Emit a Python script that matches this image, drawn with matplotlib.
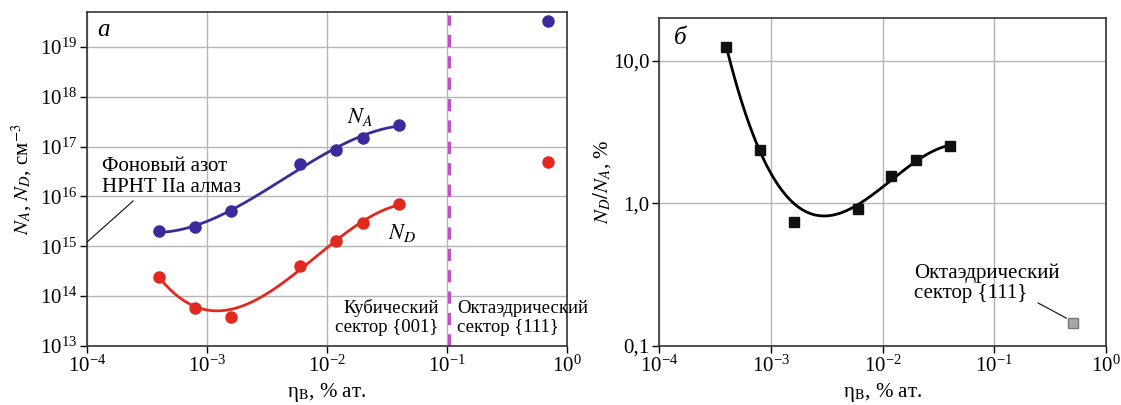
import numpy as np
import matplotlib
matplotlib.use('Agg')
import matplotlib.pyplot as plt
from matplotlib.ticker import LogFormatterMathtext, FixedLocator, NullLocator

plt.rcParams['font.family'] = ['Liberation Serif', 'DejaVu Serif']
plt.rcParams['mathtext.fontset'] = 'stix'

# boron concentration, % at.
eta = [4e-4, 8e-4, 1.6e-3, 6e-3, 1.2e-2, 2.0e-2, 4e-2]
# acceptor / donor concentration, cm^-3 (cubic sector)
NA = [2.0e15, 2.4e15, 5.2e15, 4.4e16, 8.7e16, 1.5e17, 2.75e17]
ND = [2.4e14, 5.8e13, 3.8e13, 4.0e14, 1.26e15, 2.9e15, 6.9e15]
# octahedral sector
eta_oct = 0.7
NA_oct = 3.3e19
ND_oct = 5.0e16
# ratio ND/NA, %
ratio = [12.5, 2.37, 0.735, 0.91, 1.55, 2.0, 2.51]
eta_oct_r = 0.51
ratio_oct = 0.144
# sector boundary
eta_bound = 0.105

# fit weights (smoothing curves are drawn through the data, not exactly)
w_NA = [1, 1, 1, 1, 1, 1, 1]
w_ND = [1.5, 0.6, 0.4, 1, 1, 1, 1.5]
w_ratio = [3, 1.5, 0.2, 1, 1, 1, 1]

blue = '#3a2b9c'
red = '#e2291f'
grid_c = '#b5b5b5'


def smooth(x, y, w, deg=3):
    lx, ly = np.log10(x), np.log10(y)
    p = np.polyfit(lx, ly, deg, w=w)
    xs = np.linspace(lx[0], lx[-1], 200)
    return 10 ** xs, 10 ** np.polyval(p, xs)


fig = plt.figure(figsize=(11.21, 4.05), dpi=100)
ax1 = fig.add_axes([0.0776, 0.1457, 0.428, 0.8247])
ax2 = fig.add_axes([0.5879, 0.1457, 0.3988, 0.81])

for ax in [ax1, ax2]:
    ax.set_xscale('log')
    ax.set_yscale('log')
    ax.set_xlim(1e-4, 1)
    ax.xaxis.set_major_locator(FixedLocator([1e-4, 1e-3, 1e-2, 1e-1, 1]))
    ax.xaxis.set_major_formatter(LogFormatterMathtext())
    ax.xaxis.set_minor_locator(NullLocator())
    ax.yaxis.set_minor_locator(NullLocator())
    ax.grid(True, color=grid_c, lw=1.0)
    ax.set_axisbelow(True)
    ax.tick_params(labelsize=15, direction='out', length=5, width=1, pad=2)
    for s in ax.spines.values():
        s.set_color('#333333')
        s.set_linewidth(1.2)
    ax.set_xlabel('η$_{\\mathrm{B}}$, % ат.', fontsize=15, labelpad=3)

# panel a
ax1.set_ylim(1e13, 10 ** 19.7)
ax1.yaxis.set_major_locator(FixedLocator([10.0 ** k for k in range(13, 20)]))
ax1.yaxis.set_major_formatter(LogFormatterMathtext())
xs, ys = smooth(eta, NA, w_NA)
ax1.plot(xs, ys, color=blue, lw=2)
ax1.plot(eta, NA, 'o', color=blue, ms=8)
xs, ys = smooth(eta, ND, w_ND)
ax1.plot(xs, ys, color=red, lw=2)
ax1.plot(eta, ND, 'o', color=red, ms=8)
ax1.plot([eta_oct], [NA_oct], 'o', color=blue, ms=8)
ax1.plot([eta_oct], [ND_oct], 'o', color=red, ms=8)
ax1.axvline(eta_bound, color='#c24ec4', lw=2.2, ls=(0, (4, 3)), ymax=0.99)
ax1.set_ylabel('$N_A$, $N_D$, см$^{-3}$', fontsize=15, labelpad=4)
ax1.text(0.035, 0.946, 'а', transform=ax1.transAxes, fontsize=18,
         style='italic', ha='center', va='center')
ax1.text(0.569, 0.686, '$N_A$', transform=ax1.transAxes, fontsize=16,
         ha='center', va='center')
ax1.text(0.656, 0.338, '$N_D$', transform=ax1.transAxes, fontsize=16,
         ha='center', va='center')
ax1.text(0.031, 0.565, 'Фоновый азот\nНРНТ IIа алмаз', transform=ax1.transAxes,
         fontsize=15, ha='left', va='top', linespacing=1.1)
ax1.plot([0, 0.096], [0.311, 0.434], color='#222222', lw=0.9,
         transform=ax1.transAxes, clip_on=False)
ax1.text(0.733, 0.03, 'Кубический\nсектор {001}', transform=ax1.transAxes,
         fontsize=13.5, ha='right', va='bottom', linespacing=1.15)
ax1.text(0.771, 0.03, 'Октаэдрический\nсектор {111}', transform=ax1.transAxes,
         fontsize=13.5, ha='left', va='bottom', linespacing=1.15)

# panel b
ax2.set_ylim(0.1, 10 ** 1.30)
ax2.yaxis.set_major_locator(FixedLocator([0.1, 1.0, 10.0]))
ax2.set_yticklabels(['0,1', '1,0', '10,0'])
xs, ys = smooth(eta, ratio, w_ratio)
ax2.plot(xs, ys, color='black', lw=2)
ax2.plot(eta, ratio, 's', color='#111111', ms=7)
ax2.plot([eta_oct_r], [ratio_oct], 's', color='#a8a8a8', mec='#777777', ms=7)
ax2.set_ylabel('$N_D/N_A$, %', fontsize=15, labelpad=0)
ax2.text(0.047, 0.939, 'б', transform=ax2.transAxes, fontsize=18,
         style='italic', ha='center', va='center')
ax2.text(0.570, 0.13, 'Октаэдрический\nсектор {111}', transform=ax2.transAxes,
         fontsize=15, ha='left', va='bottom', linespacing=1.1)
ax2.plot([0.848, 0.911], [0.131, 0.085], color='#222222', lw=0.9,
         transform=ax2.transAxes)

fig.savefig('out.png', dpi=100)
